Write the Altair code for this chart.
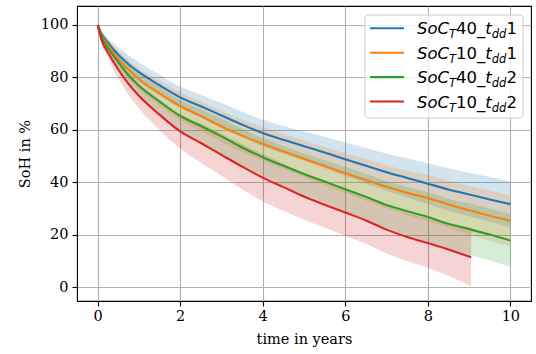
import altair as alt
import pandas as pd

# ---- data ----
years = [0, 0.1, 0.25, 0.5, 0.75, 1, 1.5, 2, 2.5, 3, 3.5, 4, 4.5, 5, 5.5, 6,
         6.5, 7, 7.5, 8, 8.5, 9, 9.5, 10]
years_red = [0, 0.1, 0.25, 0.5, 0.75, 1, 1.5, 2, 2.5, 3, 3.5, 4, 4.5, 5, 5.5, 6,
             6.5, 7, 7.5, 8, 8.5, 9.05]

blue_mean = [100, 96.5, 93.2, 88.6, 85, 82, 77, 72.4, 69, 65.5, 62, 58.8,
             56.2, 53.8, 51.4, 48.8, 46.3, 43.9, 41.7, 39.5, 37.3, 35.4, 33.5, 31.7]
blue_sd = [0, 1, 1.8, 2.8, 3.4, 3.8, 4, 4.1, 4.4, 4.7, 4.9, 5.1, 5.3, 5.6, 6,
           6.4, 6.8, 7.1, 7.5, 7.8, 8.1, 8.3, 8.5, 8.7]

orange_mean = [100, 95.8, 92.3, 87, 83, 79.3, 74, 69.1, 65.3, 61.3, 57.8, 54.7,
               51.8, 49, 46.2, 43.5, 40.9, 38.3, 36, 34, 31.6, 29.4, 27.3, 25.4]
orange_sd = [0, 1.1, 2, 3, 3.7, 4.2, 4.8, 5.3, 5.6, 5.9, 6.2, 6.4, 6.7, 7, 7.3,
             7.6, 7.9, 8.2, 8.5, 8.8, 9.1, 9.3, 9.6, 9.8]

green_mean = [100, 95.2, 91.2, 85.8, 80.8, 76.8, 70.8, 65.3, 61.5, 57.5, 53.3, 49.6,
              46.3, 43.2, 40.3, 37.4, 34.5, 31.4, 29, 26.8, 24.2, 22.2, 20.1, 17.8]
green_sd = [0, 1.2, 2.1, 3.2, 4, 4.6, 5.4, 6, 6.4, 6.8, 7.1, 7.3, 7.6, 7.9, 8.2,
            8.5, 8.8, 9, 9.2, 9.4, 9.6, 9.8, 9.9, 10]

red_mean = [100, 94, 89.5, 83, 77.5, 73, 65.8, 59.4, 55, 50.5, 46, 41.8,
            38.2, 34.6, 31.5, 28.5, 25.5, 22, 19.2, 16.9, 14.4, 11.5]
red_sd = [0, 1.3, 2.2, 3.3, 4.2, 4.8, 5.8, 6.6, 7.4, 8, 8.6, 9, 9, 8.8, 8.7,
          8.8, 8.9, 9, 9.2, 9.4, 10, 11]

series_names = ["SoC_T40_t_dd1", "SoC_T10_t_dd1", "SoC_T40_t_dd2", "SoC_T10_t_dd2"]
series_colors = ["#1f77b4", "#ff7f0e", "#2ca02c", "#d62728"]
legend_mid = ["40", "10", "40", "10"]
legend_end = ["1", "1", "2", "2"]

series_data = [
    (years, blue_mean, blue_sd),
    (years, orange_mean, orange_sd),
    (years, green_mean, green_sd),
    (years_red, red_mean, red_sd),
]

rows = []
for name, (ts, ms, sds) in zip(series_names, series_data):
    for t, m, s in zip(ts, ms, sds):
        rows.append({"series": name, "t": t, "mean": m, "lo": m - s, "hi": m + s})
df = pd.DataFrame(rows)

W, H = 454, 295
SERIF = "DejaVu Serif"

xscale = alt.Scale(domain=[-0.5, 10.5], nice=False, zero=False)
yscale = alt.Scale(domain=[-5.2, 107.2], nice=False, zero=False)
cscale = alt.Scale(domain=series_names, range=series_colors)

xaxis = alt.Axis(values=[0, 2, 4, 6, 8, 10], title="time in years", format="d",
                 titleFontWeight=400)
yaxis = alt.Axis(values=[0, 20, 40, 60, 80, 100], title="SoH in %", format="d",
                 titleFontWeight=400)

layers = []
# bands (below all lines, in series order)
for name in series_names:
    layers.append(
        alt.Chart(df).transform_filter(alt.datum.series == name)
        .mark_area(opacity=0.2, interpolate="monotone")
        .encode(
            x=alt.X("t:Q", scale=xscale, axis=xaxis),
            y=alt.Y("lo:Q", scale=yscale, axis=yaxis),
            y2="hi:Q",
            color=alt.Color("series:N", scale=cscale, legend=None),
        )
    )
# lines
for name in series_names:
    layers.append(
        alt.Chart(df).transform_filter(alt.datum.series == name)
        .mark_line(strokeWidth=2.1, interpolate="monotone")
        .encode(
            x=alt.X("t:Q", scale=xscale, axis=xaxis),
            y=alt.Y("mean:Q", scale=yscale, axis=yaxis),
            color=alt.Color("series:N", scale=cscale, legend=None),
        )
    )

# ---- custom legend (mathtext-like labels with subscripts) ----
one = pd.DataFrame({"k": [0]})
layers.append(
    alt.Chart(one).mark_rect(fill="white", fillOpacity=0.8, stroke="#cccccc",
                             strokeWidth=1, cornerRadius=3)
    .encode(x=alt.value(288), x2=alt.value(446), y=alt.value(9), y2=alt.value(112))
)

FS, SS = 16.5, 11.5
w_it = {"S": 0.635, "o": 0.612, "C": 0.698, "T": 0.611, "t": 0.392, "d": 0.635}
w_up = {"0": 0.636, "1": 0.636, "2": 0.636, "4": 0.636, "_": 0.5}

def width(s, table, size):
    return sum(table[c] for c in s) * size

row_y = [22.3, 46.7, 71.1, 95.5]
for i in range(4):
    y0 = row_y[i]
    layers.append(
        alt.Chart(one).mark_rule(color=series_colors[i], strokeWidth=2.1)
        .encode(x=alt.value(293), x2=alt.value(327), y=alt.value(y0))
    )
    pieces = [
        ("SoC", "italic", FS, 0, w_it),
        ("T", "italic", SS, 4, w_it),
        (legend_mid[i] + "_", "normal", FS, 0, w_up),
        ("t", "italic", FS, 0, w_it),
        ("dd", "italic", SS, 4, w_it),
        (legend_end[i], "normal", FS, 0, w_up),
    ]
    xp = 340.0
    for txt, style, size, drop, table in pieces:
        layers.append(
            alt.Chart(one).mark_text(text=txt, font="DejaVu Sans", fontStyle=style,
                                     fontSize=size, align="left", baseline="alphabetic",
                                     color="black")
            .encode(x=alt.value(xp), y=alt.value(y0 + 6 + drop))
        )
        xp += width(txt, table, size)

chart = (
    alt.layer(*layers)
    .properties(width=W, height=H,
                padding={"left": 77, "top": 6, "right": 5, "bottom": 52},
                autosize=alt.AutoSizeParams(type="none"))
    .configure_view(stroke="black", strokeWidth=1.1)
    .configure_axis(
        labelFont=SERIF, labelFontSize=14.5, labelColor="black",
        titleFont=SERIF, titleFontSize=14.5, titleFontWeight="normal", titleColor="black",
        tickColor="black", tickSize=5, tickWidth=1.1,
        grid=True, gridColor="#b0b0b0", gridWidth=1.1,
        domain=False,
    )
    .configure_axisX(labelPadding=3, titlePadding=10)
    .configure_axisY(labelPadding=4, titlePadding=8)
)

chart.save("out.html", embed_options={"renderer": "svg", "actions": False})
